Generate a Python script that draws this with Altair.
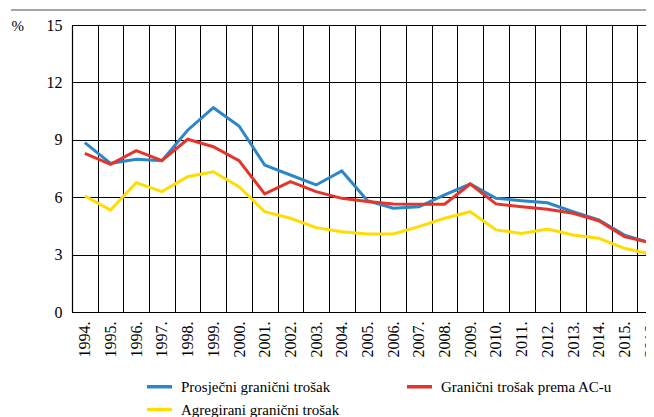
import altair as alt
import pandas as pd

years = [f"{y}." for y in range(1994, 2017)]

prosjecni = [8.85, 7.77, 7.98, 7.91, 9.5, 10.68, 9.72, 7.68, 7.16, 6.64, 7.37, 5.82, 5.42, 5.5, 6.12, 6.69, 5.94, 5.82, 5.71, 5.24, 4.81, 4.02, 3.62]
ac_u = [8.29, 7.72, 8.43, 7.91, 9.03, 8.64, 7.91, 6.17, 6.81, 6.29, 5.94, 5.77, 5.65, 5.63, 5.63, 6.69, 5.65, 5.5, 5.37, 5.16, 4.77, 3.94, 3.62]
agregirani = [6.06, 5.33, 6.76, 6.29, 7.07, 7.33, 6.55, 5.24, 4.9, 4.41, 4.2, 4.08, 4.08, 4.46, 4.9, 5.24, 4.29, 4.11, 4.34, 4.02, 3.85, 3.33, 3.03]

s_pros = "Prosječni granični trošak"
s_ac = "Granični trošak prema AC-u"
s_agr = "Agregirani granični trošak"

# legend entries are laid out column by column
legend_order = [s_pros, s_agr, s_ac]
colors = ["#2C87C9", "#FFDD00", "#E5352B"]

rows = []
for name, vals in [(s_agr, agregirani), (s_pros, prosjecni), (s_ac, ac_u)]:
    for y, v in zip(years, vals):
        rows.append({"godina": y, "vrijednost": v, "serija": name})
df = pd.DataFrame(rows)

FONT = "Liberation Sans Narrow"
W = 574
H = 287

lines = alt.Chart(df).mark_line(strokeWidth=3, strokeJoin="miter").encode(
    x=alt.X("godina:N", sort=years, title=None,
            scale=alt.Scale(paddingInner=0, paddingOuter=0, range=[0, 591]),
            axis=alt.Axis(tickBand="extent", grid=True, gridColor="#000", gridWidth=1,
                          gridOpacity=1, ticks=False, domainColor="#000", domainWidth=1.2,
                          labelAngle=-90, labelAlign="right", labelBaseline="middle",
                          labelPadding=9, labelFontSize=16, labelFont=FONT, labelColor="#000")),
    y=alt.Y("vrijednost:Q", title="%",
            scale=alt.Scale(domain=[0, 15], nice=False),
            axis=alt.Axis(values=[0, 3, 6, 9, 12, 15], grid=True, gridColor="#000", gridWidth=1,
                          gridOpacity=1, ticks=False, domainColor="#000", domainWidth=1.2,
                          labelPadding=10, labelFontSize=16, labelFont=FONT, labelColor="#000",
                          titleAngle=0, titleX=-61, titleY=0, titleAlign="left",
                          titleBaseline="middle", titleFont=FONT, titleFontSize=15,
                          titleFontWeight="normal", titleColor="#000")),
    color=alt.Color("serija:N", sort=legend_order,
                    scale=alt.Scale(domain=legend_order, range=colors),
                    legend=alt.Legend(title=None, orient="none", legendX=73, legendY=347,
                                      columns=2, columnPadding=60, rowPadding=-3,
                                      symbolType="stroke", symbolSize=625, symbolStrokeWidth=3.5,
                                      labelFont=FONT, labelFontSize=15, labelColor="#000",
                                      labelOffset=7, labelLimit=400)),
)

topline = alt.Chart(pd.DataFrame({"a": [0]})).mark_rule(color="#888", strokeWidth=1.5).encode(
    x=alt.value(-61), x2=alt.value(600), y=alt.value(-15)
)

chart = alt.layer(topline, lines).properties(
    width=W, height=H,
    autosize=alt.AutoSizeParams(type="none"),
    padding={"left": 64, "top": 17, "right": 0, "bottom": 105},
).configure_view(stroke=None).configure(background="white")

chart.save("out.html", embed_options={"renderer": "svg", "actions": False})
